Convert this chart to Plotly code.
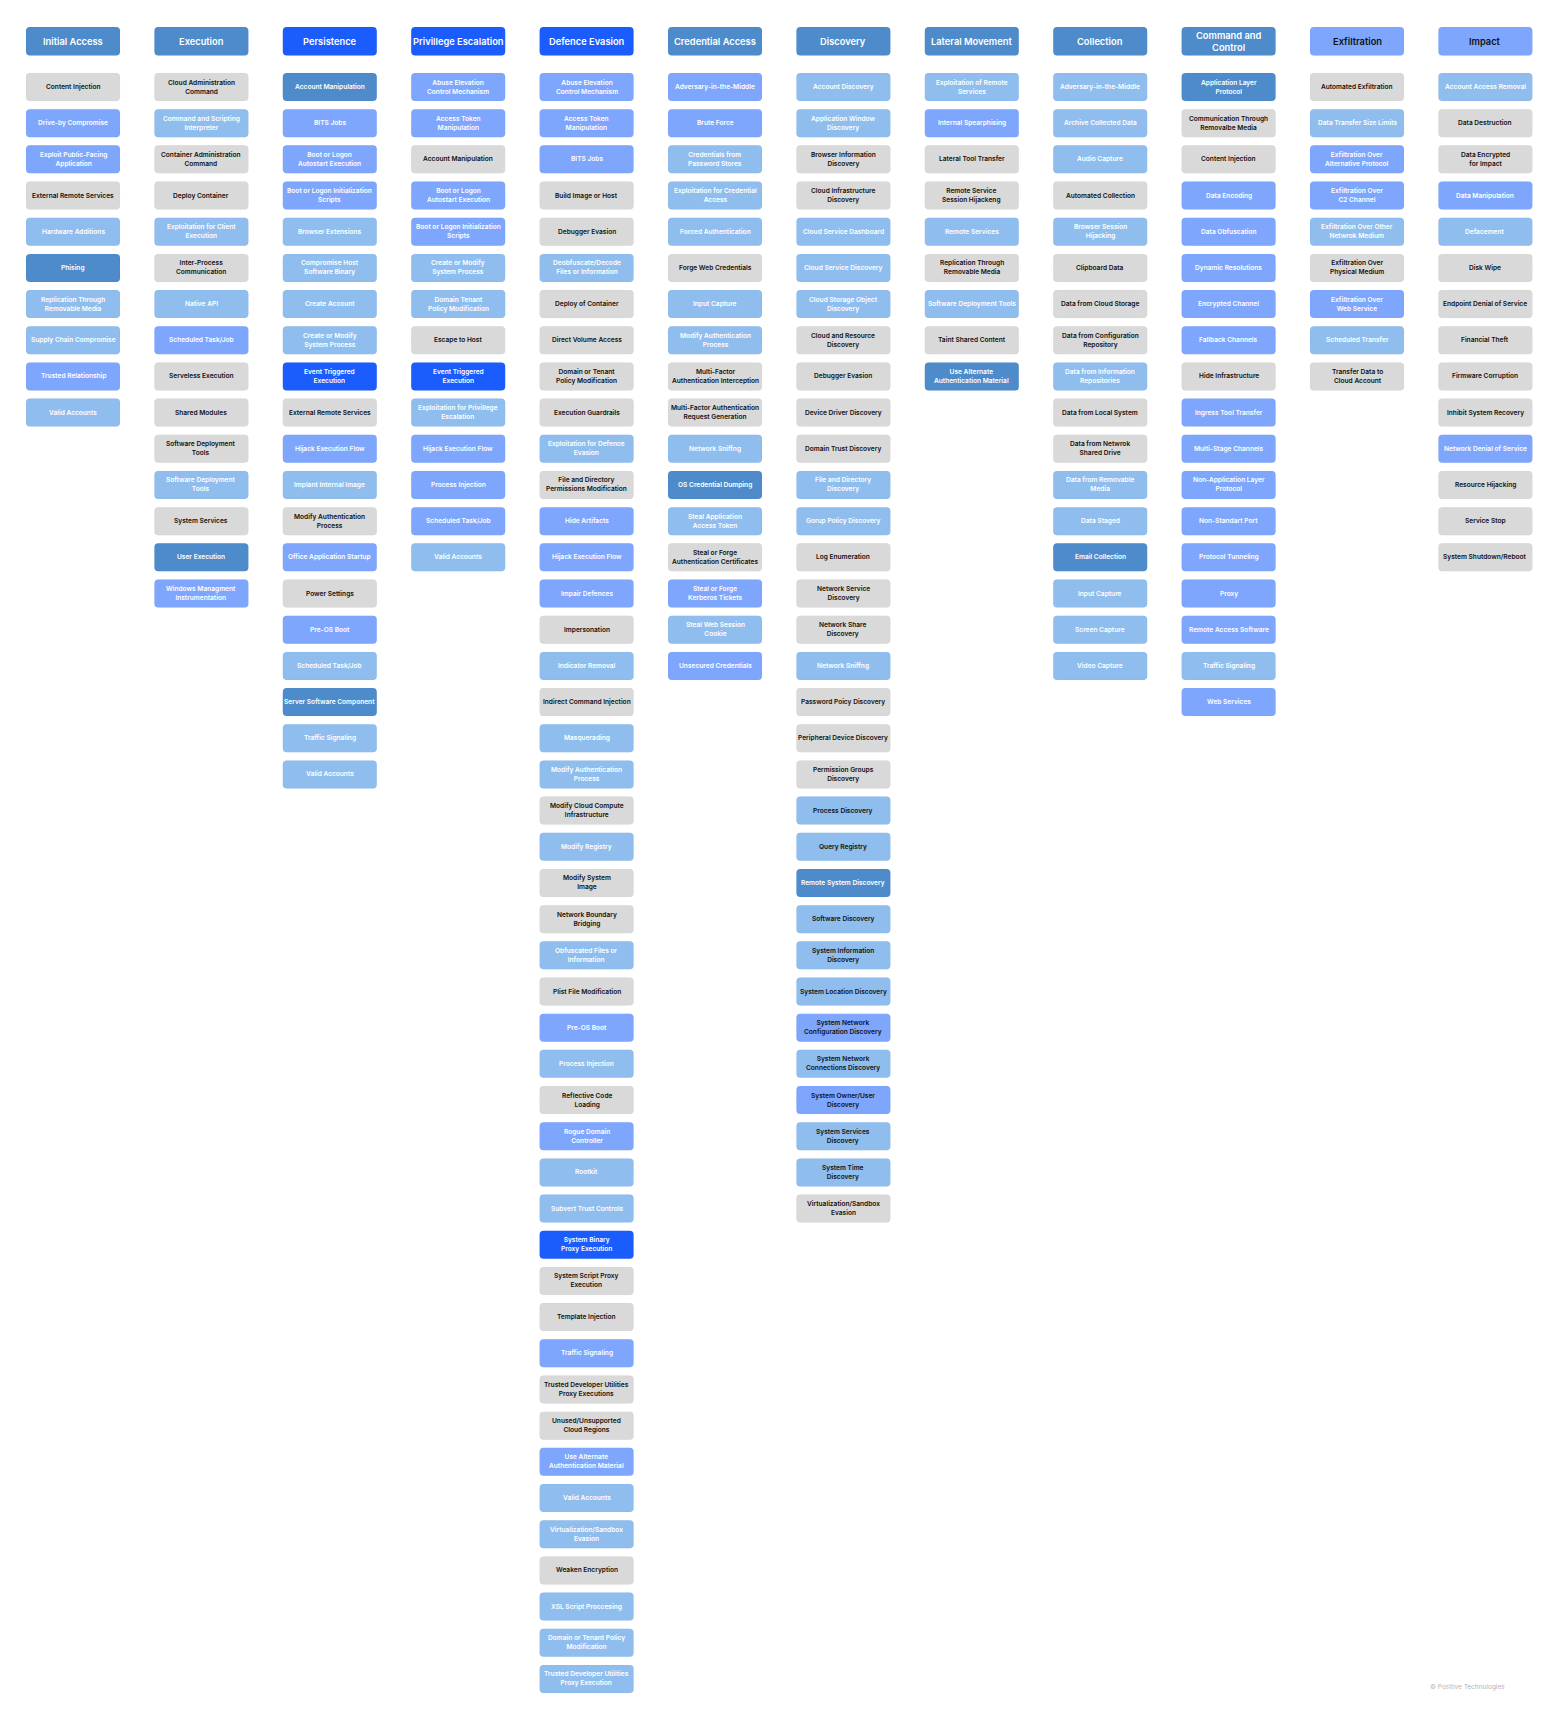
import plotly.graph_objects as go

W, H = 1560, 1717

tactics = ["Initial Access", "Execution", "Persistence", "Privillege Escalation", "Defence Evasion",
           "Credential Access", "Discovery", "Lateral Movement", "Collection", "Command and<br>Control",
           "Exfiltration", "Impact"]
tactic_codes = ["S", "S", "B", "B", "B", "S", "S", "S", "S", "S", "p", "p"]

initial_access = ["Content Injection", "Drive-by Compromise", "Exploit Public-Facing<br>Application",
                  "External Remote Services", "Hardware Additions", "Phising",
                  "Replication Through<br>Removable Media", "Supply Chain Compromise",
                  "Trusted Relationship", "Valid Accounts"]
initial_access_c = "GPPGLSLLPL"

execution = ["Cloud Administration<br>Command", "Command and Scripting<br>Interpreter",
             "Container Administration<br>Command", "Deploy Container", "Exploitation for Client<br>Execution",
             "Inter-Process<br>Communication", "Native API", "Scheduled Task/Job", "Serveless Execution",
             "Shared Modules", "Software Deployment<br>Tools", "Software Deployment<br>Tools",
             "System Services", "User Execution", "Windows Managment<br>Instrumentation"]
execution_c = "GLGGLGLPGGGLGSP"

persistence = ["Account Manipulation", "BITS Jobs", "Boot or Logon<br>Autostart Execution",
               "Boot or Logon Initialization<br>Scripts", "Browser Extensions", "Compromise Host<br>Software Binary",
               "Create Account", "Create or Modify<br>System Process", "Event Triggered<br>Execution",
               "External Remote Services", "Hijack Execution Flow", "Implant Internal Image",
               "Modify Authentication<br>Process", "Office Application Startup", "Power Settings",
               "Pre-OS Boot", "Scheduled Task/Job", "Server Software Component", "Traffic Signaling",
               "Valid Accounts"]
persistence_c = "SPPPLLLLBGPLGPGPLSLL"

priv_esc = ["Abuse Elevation<br>Control Mechanism", "Access Token<br>Manipulation", "Account Manipulation",
            "Boot or Logon<br>Autostart Execution", "Boot or Logon Initialization<br>Scripts",
            "Create or Modify<br>System Process", "Domain Tenant<br>Policy Modification", "Escape to Host",
            "Event Triggered<br>Execution", "Exploitation for Privillege<br>Escalation",
            "Hijack Execution Flow", "Process Injection", "Scheduled Task/Job", "Valid Accounts"]
priv_esc_c = "PPGPPLLGBLPPPL"

defence_evasion = ["Abuse Elevation<br>Control Mechanism", "Access Token<br>Manipulation", "BITS Jobs",
                   "Build Image or Host", "Debugger Evasion", "Deobfuscate/Decode<br>Files or Information",
                   "Deploy of Container", "Direct Volume Access", "Domain or Tenant<br>Policy Modification",
                   "Execution Guardrails", "Exploitation for Defence<br>Evasion",
                   "File and Directory<br>Permissions Modification", "Hide Artifacts", "Hijack Execution Flow",
                   "Impair Defences", "Impersonation", "Indicator Removal", "Indirect Command Injection",
                   "Masquerading", "Modify Authentication<br>Process", "Modify Cloud Compute<br>Infrastructure",
                   "Modify Registry", "Modify System<br>Image", "Network Boundary<br>Bridging",
                   "Obfuscated Files or<br>Information", "Plist File Modification", "Pre-OS Boot",
                   "Process Injection", "Reflective Code<br>Loading", "Rogue Domain<br>Controller", "Rootkit",
                   "Subvert Trust Controls", "System Binary<br>Proxy Execution", "System Script Proxy<br>Execution",
                   "Template Injection", "Traffic Signaling", "Trusted Developer Utilities<br>Proxy Executions",
                   "Unused/Unsupported<br>Cloud Regions", "Use Alternate<br>Authentication Material",
                   "Valid Accounts", "Virtualization/Sandbox<br>Evasion", "Weaken Encryption",
                   "XSL Script Proccesing", "Domain or Tenant Policy<br>Modification",
                   "Trusted Developer Utilities<br>Proxy Execution"]
defence_evasion_c = "PPPGGLGGGGLGPPPGLGLLGLGGLGPLGPLLBGGPGGPLLGLLL"

credential_access = ["Adversary-in-the-Middle", "Brute Force", "Credentials from<br>Password Stores",
                     "Exploitation for Credential<br>Access", "Forced Authentication", "Forge Web Credentials",
                     "Input Capture", "Modify Authentication<br>Process", "Multi-Factor<br>Authentication Interception",
                     "Multi-Factor Authentication<br>Request Generation", "Network Sniffng", "OS Credential Dumping",
                     "Steal Application<br>Access Token", "Steal or Forge<br>Authentication Certificates",
                     "Steal or Forge<br>Kerberos Tickets", "Steal Web Session<br>Cookie", "Unsecured Credentials"]
credential_access_c = "PPLLLGLLGGLSLGPLP"

discovery = ["Account Discovery", "Application Window<br>Discovery", "Browser Information<br>Discovery",
             "Cloud Infrastructure<br>Discovery", "Cloud Service Dashboard", "Cloud Service Discovery",
             "Cloud Storage Object<br>Discovery", "Cloud and Resource<br>Discovery", "Debugger Evasion",
             "Device Driver Discovery", "Domain Trust Discovery", "File and Directory<br>Discovery",
             "Gorup Policy Discovery", "Log Enumeration", "Network Service<br>Discovery",
             "Network Share<br>Discovery", "Network Sniffng", "Password Poicy Discovery",
             "Peripheral Device Discovery", "Permission Groups<br>Discovery", "Process Discovery",
             "Query Registry", "Remote System Discovery", "Software Discovery",
             "System Information<br>Discovery", "System Location Discovery",
             "System Network<br>Configuration Discovery", "System Network<br>Connections Discovery",
             "System Owner/User<br>Discovery", "System Services<br>Discovery", "System Time<br>Discovery",
             "Virtualization/Sandbox<br>Evasion"]
discovery_c = "LLGGLLLGGGGLLGGGLGGG" + "llSlllplpllG"

lateral_movement = ["Exploitation of Remote<br>Services", "Internal Spearphising", "Lateral Tool Transfer",
                    "Remote Service<br>Session Hijackeng", "Remote Services", "Replication Through<br>Removable Media",
                    "Software Deployment Tools", "Taint Shared Content", "Use Alternate<br>Authentication Material"]
lateral_movement_c = "LPGGLGLGS"

collection = ["Adversary-in-the-Middle", "Archive Collected Data", "Audio Capture", "Automated Collection",
              "Browser Session<br>Hijacking", "Clipboard Data", "Data from Cloud Storage",
              "Data from Configuration<br>Repository", "Data from Information<br>Repositories",
              "Data from Local System", "Data from Netwrok<br>Shared Drive", "Data from Removable<br>Media",
              "Data Staged", "Email Collection", "Input Capture", "Screen Capture", "Video Capture"]
collection_c = "LLLGLGGGLGGLLSLLL"

command_control = ["Application Layer<br>Protocol", "Communication Through<br>Removalbe Media",
                   "Content Injection", "Data Encoding", "Data Obfuscation", "Dynamic Resolutions",
                   "Encrypted Channel", "Fallback Channels", "Hide Infrastructure", "Ingress Tool Transfer",
                   "Multi-Stage Channels", "Non-Application Layer<br>Protocol", "Non-Standart Port",
                   "Protocol Tunneling", "Proxy", "Remote Access Software", "Traffic Signaling", "Web Services"]
command_control_c = "SGGPPPPPGPPPPPPPLP"

exfiltration = ["Automated Exfiltration", "Data Transfer Size Limits", "Exfiltration Over<br>Alternative Protocol",
                "Exfiltration Over<br>C2 Channel", "Exfiltration Over Other<br>Netwrok Medium",
                "Exfiltration Over<br>Physical Medium", "Exfiltration Over<br>Web Service", "Scheduled Transfer",
                "Transfer Data to<br>Cloud Account"]
exfiltration_c = "GLPPLGPLG"

impact = ["Account Access Removal", "Data Destruction", "Data Encrypted<br>for Impact", "Data Manipulation",
          "Defacement", "Disk Wipe", "Endpoint Denial of Service", "Financial Theft", "Firmware Corruption",
          "Inhibit System Recovery", "Network Denial of Service", "Resource Hijacking", "Service Stop",
          "System Shutdown/Reboot"]
impact_c = "LGGPLGGGGGPGGG"

columns = [(initial_access, initial_access_c), (execution, execution_c), (persistence, persistence_c),
           (priv_esc, priv_esc_c), (defence_evasion, defence_evasion_c),
           (credential_access, credential_access_c), (discovery, discovery_c),
           (lateral_movement, lateral_movement_c), (collection, collection_c),
           (command_control, command_control_c), (exfiltration, exfiltration_c), (impact, impact_c)]

PALETTE = {"G": "#d9d9d9", "L": "#8fbdee", "P": "#7ea6fd", "S": "#4e8bca", "B": "#1b5cfd"}

OFF = 8  # page body margin
X0, PITCH_X, CW = 26 - OFF, 128.4, 94
HEAD_Y0, HEAD_H = 27 - OFF, 28.5
ROW_Y0, PITCH_Y, CH = 73 - OFF, 36.18, 28
R = 4


def rounded(x0, y0, x1, y1, r):
    return (f"M{x0+r},{y0} L{x1-r},{y0} Q{x1},{y0} {x1},{y0+r} L{x1},{y1-r} Q{x1},{y1} {x1-r},{y1} "
            f"L{x0+r},{y1} Q{x0},{y1} {x0},{y1-r} L{x0},{y0+r} Q{x0},{y0} {x0+r},{y0} Z")


shapes, annotations = [], []


def add_box(x0, y0, h, label, code, size, weight):
    fill = PALETTE[code.upper()]
    dark = code == "G" or code.islower()
    shapes.append(dict(type="path", path=rounded(x0, y0, x0 + CW, y0 + h, R), xref="x", yref="y",
                       fillcolor=fill, line=dict(width=0.6, color="rgba(0,0,0,0.04)"), layer="below"))
    annotations.append(dict(x=x0 + CW / 2, y=y0 + h / 2, xref="x", yref="y", text=label, showarrow=False,
                            font=dict(family="Inter", size=size, weight=weight,
                                      color="#111111" if dark else "#ffffff"),
                            align="center", xanchor="center", yanchor="middle"))


for i, (head, hc) in enumerate(zip(tactics, tactic_codes)):
    x0 = X0 + PITCH_X * i
    add_box(x0, HEAD_Y0, HEAD_H, head, hc, 9.3, 600)
    names, codes = columns[i]
    for j, (nm, cd) in enumerate(zip(names, codes)):
        add_box(x0, ROW_Y0 + PITCH_Y * j, CH, nm, cd, 6.6, 600)

annotations.append(dict(x=1467 - OFF, y=1687 - OFF, xref="x", yref="y", text="© Positive Technologies",
                        showarrow=False, font=dict(family="Inter", size=6.5, color="#b5b5b5"),
                        xanchor="center", yanchor="middle"))

fig = go.Figure()
fig.update_layout(width=W, height=H, margin=dict(l=0, r=0, t=0, b=0), paper_bgcolor="white",
                  plot_bgcolor="white", shapes=shapes, annotations=annotations, showlegend=False,
                  xaxis=dict(range=[0, W], visible=False, fixedrange=True),
                  yaxis=dict(range=[H, 0], visible=False, fixedrange=True))
fig.write_html("out.html")
